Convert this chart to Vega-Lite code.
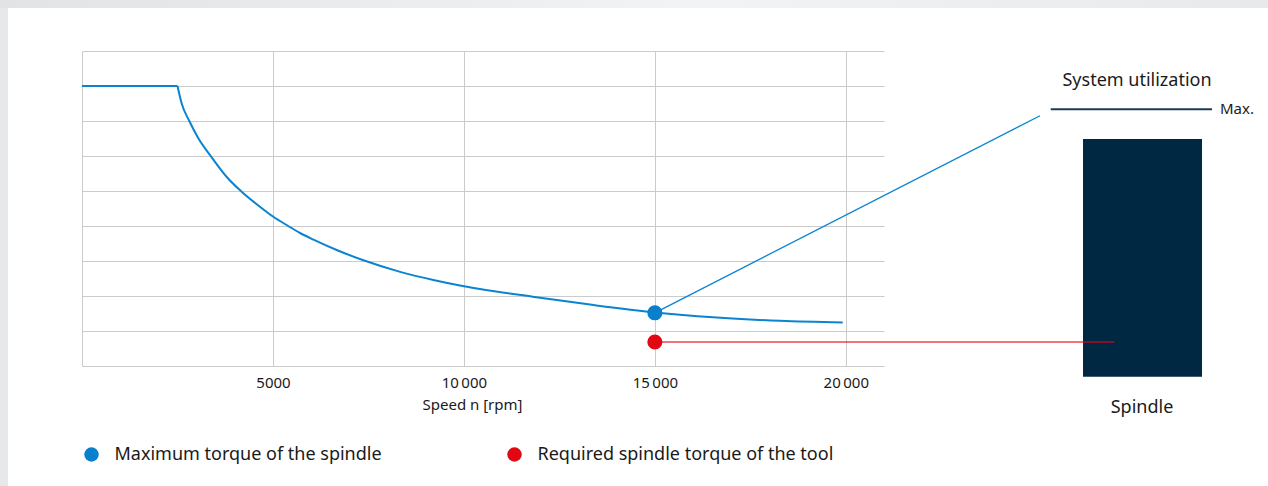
{
  "$schema": "https://vega.github.io/schema/vega-lite/v6.json",
  "width": 802,
  "height": 315,
  "autosize": {"type": "none"},
  "padding": {"left": 82, "top": 51, "right": 384, "bottom": 120},
  "background": "#ffffff",
  "config": {
    "font": "Noto Sans",
    "view": {"stroke": null},
    "text": {"color": "#1a1a1a"}
  },
  "datasets": {
    "curve": [
      {"segment": "constant torque", "rpm": 0, "torque": 8.0},
      {"segment": "constant torque", "rpm": 2500, "torque": 8.0},
      {"segment": "constant power", "rpm": 2500, "torque": 8.0},
      {"segment": "constant power", "rpm": 2610, "torque": 7.5},
      {"segment": "constant power", "rpm": 2810, "torque": 7.0},
      {"segment": "constant power", "rpm": 3050, "torque": 6.5},
      {"segment": "constant power", "rpm": 3370, "torque": 6.0},
      {"segment": "constant power", "rpm": 3790, "torque": 5.4},
      {"segment": "constant power", "rpm": 4180, "torque": 4.98},
      {"segment": "constant power", "rpm": 4660, "torque": 4.55},
      {"segment": "constant power", "rpm": 5000, "torque": 4.27},
      {"segment": "constant power", "rpm": 5400, "torque": 4.0},
      {"segment": "constant power", "rpm": 5710, "torque": 3.8},
      {"segment": "constant power", "rpm": 6060, "torque": 3.61},
      {"segment": "constant power", "rpm": 6700, "torque": 3.3},
      {"segment": "constant power", "rpm": 7370, "torque": 3.02},
      {"segment": "constant power", "rpm": 8330, "torque": 2.69},
      {"segment": "constant power", "rpm": 9200, "torque": 2.46},
      {"segment": "constant power", "rpm": 10000, "torque": 2.28},
      {"segment": "constant power", "rpm": 10420, "torque": 2.2},
      {"segment": "constant power", "rpm": 11800, "torque": 1.98},
      {"segment": "constant power", "rpm": 13400, "torque": 1.74},
      {"segment": "constant power", "rpm": 15000, "torque": 1.53},
      {"segment": "constant power", "rpm": 16520, "torque": 1.39},
      {"segment": "constant power", "rpm": 18280, "torque": 1.29},
      {"segment": "constant power", "rpm": 19920, "torque": 1.24}
    ],
    "operating": [
      {"rpm": 15000, "torque": 1.52, "series": "Maximum torque of the spindle"},
      {"rpm": 15000, "torque": 0.686, "series": "Required spindle torque of the tool"}
    ]
  },
  "layer": [
    {
      "data": {"values": [{"part": "frame left"}]},
      "mark": {"type": "rect", "color": "#e6e8ea"},
      "encoding": {
        "x": {"datum": -2147, "type": "quantitative"},
        "x2": {"datum": -1938},
        "y": {"datum": 10.46, "type": "quantitative"},
        "y2": {"datum": -3.43}
      }
    },
    {
      "data": {"values": [{"part": "frame top"}]},
      "mark": {
        "type": "rect",
        "fill": {
          "gradient": "linear", "x1": 0, "y1": 0, "x2": 1, "y2": 0,
          "stops": [
            {"offset": 0, "color": "#e1e3e5"},
            {"offset": 0.55, "color": "#f2f3f4"},
            {"offset": 1, "color": "#e7e9eb"}
          ]
        }
      },
      "encoding": {
        "x": {"datum": -2147, "type": "quantitative"},
        "x2": {"datum": 31055},
        "y": {"datum": 10.46, "type": "quantitative"},
        "y2": {"datum": 10.229}
      }
    },
    {
      "data": {"name": "curve"},
      "mark": {"type": "line", "color": "#0a84d0", "strokeWidth": 2, "interpolate": "monotone"},
      "encoding": {
        "x": {
          "field": "rpm", "type": "quantitative",
          "scale": {"domain": [0, 21000], "nice": false, "zero": false},
          "axis": {
            "values": [5000, 10000, 15000, 20000], "tickCount": 10,
            "grid": true, "gridColor": "#cbcbcb", "gridWidth": 1,
            "ticks": false, "tickSize": 0,
            "domainColor": "#cbcbcb", "domainWidth": 1,
            "labelFontSize": 15, "labelColor": "#1a1a1a", "labelPadding": 9,
            "labelExpr": "datum.value < 10000 ? '' + datum.value : floor(datum.value / 1000) + '\u2009000'",
            "title": "Speed n [rpm]", "titleFontSize": 15, "titleFontWeight": "normal",
            "titleColor": "#1a1a1a", "titleX": 390, "titleY": 43,
            "titleAlign": "center", "titleBaseline": "alphabetic"
          }
        },
        "y": {
          "field": "torque", "type": "quantitative",
          "scale": {"domain": [0, 9], "nice": false, "zero": false},
          "axis": {
            "values": [1, 2, 3, 4, 5, 6, 7, 8, 9], "tickCount": 20,
            "grid": true, "gridColor": "#cbcbcb", "gridWidth": 1,
            "ticks": false, "tickSize": 0, "labels": false,
            "domainColor": "#cbcbcb", "domainWidth": 1,
            "title": null
          }
        },
        "detail": {"field": "segment"}
      }
    },
    {
      "data": {"values": [{"link": "max torque to utilization"}]},
      "mark": {"type": "rule", "color": "#0a84d0", "strokeWidth": 1.3},
      "encoding": {
        "x": {"datum": 15000, "type": "quantitative"},
        "y": {"datum": 1.52, "type": "quantitative"},
        "x2": {"datum": 25085},
        "y2": {"datum": 7.151}
      }
    },
    {
      "data": {"values": [{"component": "Spindle"}]},
      "mark": {"type": "rect", "color": "#002842"},
      "encoding": {
        "x": {"datum": 26211, "type": "quantitative"},
        "x2": {"datum": 29327},
        "y": {"datum": 6.486, "type": "quantitative"},
        "y2": {"datum": -0.306}
      }
    },
    {
      "data": {"values": [{"link": "required torque to spindle"}]},
      "mark": {"type": "rule", "color": "#e30613", "strokeWidth": 1.4, "opacity": 0.75},
      "encoding": {
        "x": {"datum": 15000, "type": "quantitative"},
        "x2": {"datum": 27031},
        "y": {"datum": 0.686, "type": "quantitative"}
      }
    },
    {
      "data": {"values": [{"level": "Max."}]},
      "mark": {"type": "rule", "color": "#1d3a58", "strokeWidth": 2},
      "encoding": {
        "x": {"datum": 25366, "type": "quantitative"},
        "x2": {"datum": 29589},
        "y": {"datum": 7.334, "type": "quantitative"}
      }
    },
    {
      "data": {"values": [{"label": "System utilization"}]},
      "mark": {"type": "text", "fontSize": 18, "align": "center", "baseline": "alphabetic"},
      "encoding": {
        "x": {"datum": 27625, "type": "quantitative"},
        "y": {"datum": 7.986, "type": "quantitative"},
        "text": {"field": "label"}
      }
    },
    {
      "data": {"values": [{"label": "Max."}]},
      "mark": {"type": "text", "fontSize": 15, "align": "left", "baseline": "alphabetic"},
      "encoding": {
        "x": {"datum": 29798, "type": "quantitative"},
        "y": {"datum": 7.191, "type": "quantitative"},
        "text": {"field": "label"}
      }
    },
    {
      "data": {"values": [{"label": "Spindle"}]},
      "mark": {"type": "text", "fontSize": 18, "align": "center", "baseline": "alphabetic"},
      "encoding": {
        "x": {"datum": 27756, "type": "quantitative"},
        "y": {"datum": -1.351, "type": "quantitative"},
        "text": {"field": "label"}
      }
    },
    {
      "data": {"name": "operating"},
      "mark": {"type": "point", "filled": true, "opacity": 1, "size": 227, "shape": "circle", "strokeWidth": 0},
      "encoding": {
        "x": {"field": "rpm", "type": "quantitative"},
        "y": {"field": "torque", "type": "quantitative"},
        "color": {
          "field": "series", "type": "nominal",
          "scale": {
            "domain": ["Maximum torque of the spindle", "Required spindle torque of the tool"],
            "range": ["#0a80cc", "#e30613"]
          },
          "legend": {
            "title": null, "orient": "none", "legendX": 0.5, "legendY": 394.5,
            "direction": "horizontal", "columns": 2, "columnPadding": 123,
            "padding": 0, "labelFontSize": 18, "labelColor": "#1a1a1a",
            "labelLimit": 600, "labelOffset": 14,
            "symbolSize": 210, "symbolType": "circle", "symbolStrokeWidth": 0
          }
        }
      }
    }
  ]
}
